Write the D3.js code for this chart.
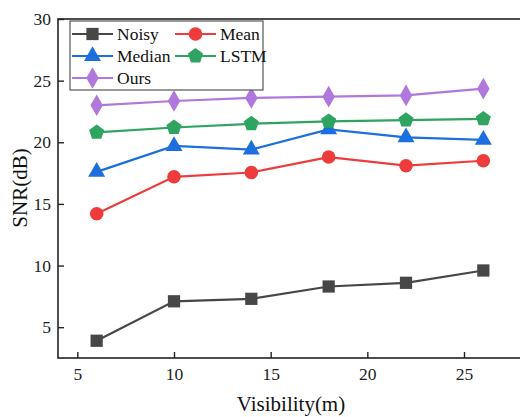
<!DOCTYPE html>
<html>
<head>
<meta charset="utf-8">
<script src="https://cdn.jsdelivr.net/npm/d3@7"></script>
<style>
body { margin: 0; background: #fff; }
text { font-family: "Liberation Serif", "DejaVu Serif", serif; }
</style>
</head>
<body>
<div id="chart"></div>
<script>
var visibility = [6, 10, 14, 18, 22, 26];
var noisy = [3.9, 7.1, 7.3, 8.3, 8.6, 9.6];
var mean = [14.2, 17.2, 17.55, 18.8, 18.1, 18.5];
var median = [17.6, 19.7, 19.4, 21.05, 20.4, 20.2];
var lstm = [20.8, 21.2, 21.5, 21.7, 21.8, 21.9];
var ours = [23.0, 23.35, 23.6, 23.7, 23.8, 24.35];
var xTicks = [5, 10, 15, 20, 25];
var yTicks = [5, 10, 15, 20, 25, 30];

var series = [
	{name: "Noisy", values: noisy, color: "#474747", symbol: d3.symbolSquare, size: 150},
	{name: "Mean", values: mean, color: "#ee3b3b", symbol: d3.symbolCircle, size: 145},
	{name: "Median", values: median, color: "#1c6fdc", symbol: d3.symbolTriangle, size: 125},
	{name: "LSTM", values: lstm, color: "#2ea460", symbol: "pentagon", size: 150},
	{name: "Ours", values: ours, color: "#b077dd", symbol: d3.symbolDiamond, size: 135}
];

var width = 520, height = 417;
var margin = {top: 19, left: 58, bottom: 59};

var svg = d3.select("#chart")
	.append("svg")
	.attr("width", width)
	.attr("height", height);

var x = d3.scaleLinear().domain([4, 28]).range([margin.left, 522]);
var y = d3.scaleLinear().domain([2.5, 30]).range([height - margin.bottom, margin.top]);

// pentagon path
function pentagon(size) {
	var r = Math.sqrt(size / 2.38);
	var p = d3.path();
	for (var i = 0; i < 5; i++) {
		var a = -Math.PI / 2 + i * 2 * Math.PI / 5;
		if (i == 0) p.moveTo(r * Math.cos(a), r * Math.sin(a));
		else p.lineTo(r * Math.cos(a), r * Math.sin(a));
	}
	p.closePath();
	return p.toString();
}
function markerPath(s, size) {
	if (s.symbol == "pentagon") return pentagon(size || s.size);
	return d3.symbol().type(s.symbol).size(size || s.size)();
}

// frame
svg.append("rect")
	.attr("x", x(4)).attr("y", y(30))
	.attr("width", x(28) - x(4)).attr("height", y(2.5) - y(30))
	.attr("fill", "none").attr("stroke", "#222").attr("stroke-width", 1.6);

// x axis
var xAxis = svg.append("g")
	.attr("transform", "translate(0," + y(2.5) + ")")
	.call(d3.axisBottom(x).tickValues(xTicks).tickSizeInner(-6).tickSizeOuter(0).tickPadding(10));
xAxis.select(".domain").remove();
xAxis.selectAll("line").attr("stroke", "#222").attr("stroke-width", 1.4);
xAxis.selectAll("text").attr("font-size", 17.5).attr("fill", "#222");

// y axis
var yAxis = svg.append("g")
	.attr("transform", "translate(" + x(4) + ",0)")
	.call(d3.axisLeft(y).tickValues(yTicks).tickSizeInner(-6).tickSizeOuter(0).tickPadding(7));
yAxis.select(".domain").remove();
yAxis.selectAll("line").attr("stroke", "#222").attr("stroke-width", 1.4);
yAxis.selectAll("text").attr("font-size", 17.5).attr("fill", "#222");

// titles
svg.append("text")
	.attr("x", 291).attr("y", 411)
	.attr("text-anchor", "middle")
	.attr("font-size", 21).attr("fill", "#111")
	.text("Visibility(m)");
svg.append("text")
	.attr("transform", "translate(27," + 188 + ") rotate(-90)")
	.attr("text-anchor", "middle")
	.attr("font-size", 21).attr("fill", "#111")
	.text("SNR(dB)");

// lines and markers
var line = d3.line()
	.x(function(d, i) { return x(visibility[i]); })
	.y(function(d) { return y(d); });

series.forEach(function(s) {
	svg.append("path")
		.attr("d", line(s.values))
		.attr("fill", "none")
		.attr("stroke", s.color)
		.attr("stroke-width", 2.2);
	svg.selectAll(null)
		.data(s.values)
		.join("path")
		.attr("transform", function(d, i) { return "translate(" + x(visibility[i]) + "," + y(d) + ")"; })
		.attr("d", markerPath(s))
		.attr("fill", s.color);
});

// legend
var legend = svg.append("g");
legend.append("rect")
	.attr("x", 70).attr("y", 21)
	.attr("width", 193).attr("height", 69)
	.attr("fill", "#fff").attr("stroke", "#555").attr("stroke-width", 1.2);

var legendPos = [[72, 34], [175, 34], [72, 56], [175, 56], [72, 78]];
series.forEach(function(s, i) {
	var p = legendPos[i];
	var g = legend.append("g").attr("transform", "translate(" + p[0] + "," + p[1] + ")");
	g.append("line").attr("x1", 0).attr("x2", 41).attr("y1", 0).attr("y2", 0)
		.attr("stroke", s.color).attr("stroke-width", 2.2);
	g.append("path").attr("transform", "translate(20.5,0)")
		.attr("d", markerPath(s)).attr("fill", s.color);
	g.append("text").attr("x", 45).attr("y", 6)
		.attr("font-size", 17.5).attr("fill", "#111")
		.text(s.name);
});
</script>
</body>
</html>
